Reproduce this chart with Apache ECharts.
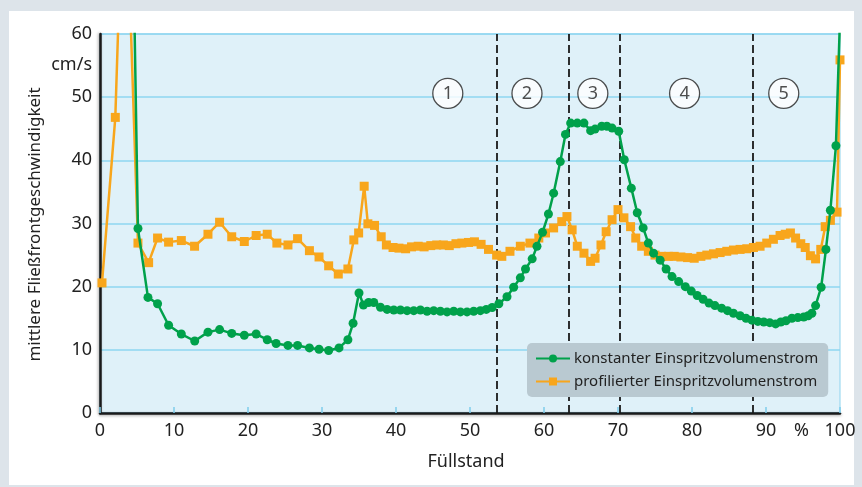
<!DOCTYPE html>
<html>
<head>
<meta charset="utf-8">
<script src="https://cdn.jsdelivr.net/npm/echarts@6/dist/echarts.min.js"></script>
<style>
  html, body { margin: 0; padding: 0; background: #dde4ea; }
  #frame { position: absolute; left: 9px; top: 11px; width: 845px; height: 474px; background: #ffffff; }
  #chart { position: absolute; left: 0; top: 0; width: 862px; height: 487px; }
</style>
</head>
<body>
<div id="frame"></div>
<div id="chart"></div>
<script>
// ---- data ----
const seriesNames = ['konstanter Einspritzvolumenstrom', 'profilierter Einspritzvolumenstrom'];
const xTicks = [0, 10, 20, 30, 40, 50, 60, 70, 80, 90, 100];
const yTicks = [0, 10, 20, 30, 40, 50, 60];

const konstantX = [4.4, 5.13, 6.48, 7.78, 9.27, 10.99, 12.8, 14.59, 16.16, 17.8, 19.5, 21.1, 22.6, 23.8, 25.4, 26.7, 28.3, 29.6, 30.9, 32.3, 33.5, 34.2, 35.0, 35.6, 36.3, 37.0, 37.9, 38.8, 39.7, 40.6, 41.5, 42.4, 43.3, 44.2, 45.1, 46.0, 46.9, 47.8, 48.7, 49.6, 50.5, 51.4, 52.2, 53.0, 53.9, 55.0, 55.9, 56.8, 57.5, 58.4, 59.05, 59.8, 60.6, 61.3, 62.2, 62.9, 63.6, 64.5, 65.4, 66.3, 66.9, 67.8, 68.5, 69.2, 70.1, 70.85, 71.8, 72.6, 73.4, 74.1, 74.8, 75.7, 76.5, 77.3, 78.2, 79.1, 79.9, 80.7, 81.5, 82.3, 83.1, 84.0, 84.8, 85.6, 86.5, 87.3, 88.1, 88.9, 89.7, 90.5, 91.3, 92.0, 92.7, 93.5, 94.3, 95.1, 95.7, 96.2, 96.7, 97.45, 98.1, 98.7, 99.45, 100];
const konstantY = [80, 29.2, 18.3, 17.3, 13.9, 12.5, 11.4, 12.8, 13.2, 12.6, 12.3, 12.5, 11.6, 11.0, 10.7, 10.7, 10.3, 10.1, 9.9, 10.3, 11.6, 14.2, 19.0, 17.1, 17.5, 17.5, 16.75, 16.4, 16.3, 16.3, 16.2, 16.2, 16.3, 16.1, 16.2, 16.1, 16.0, 16.1, 16.0, 16.0, 16.1, 16.2, 16.4, 16.7, 17.3, 18.4, 19.9, 21.4, 22.8, 24.4, 26.4, 28.6, 31.5, 34.8, 39.8, 44.1, 45.9, 45.9, 45.9, 44.7, 44.95, 45.4, 45.4, 45.1, 44.6, 40.1, 35.6, 31.7, 29.3, 26.9, 25.3, 24.2, 22.8, 21.6, 20.8, 20.0, 19.3, 18.6, 18.0, 17.4, 17.0, 16.6, 16.2, 15.8, 15.4, 15.0, 14.7, 14.5, 14.4, 14.3, 14.1, 14.4, 14.6, 15.0, 15.1, 15.2, 15.4, 15.8, 17.0, 19.9, 25.9, 32.1, 42.3, 62.5];

const profilX = [0.27, 2.07, 3.3, 5.13, 6.57, 7.78, 9.27, 10.99, 12.78, 14.59, 16.16, 17.8, 19.5, 21.1, 22.6, 23.9, 25.4, 26.7, 28.3, 29.6, 30.9, 32.2, 33.5, 34.3, 34.95, 35.7, 36.2, 37.1, 38.0, 38.7, 39.6, 40.4, 41.3, 42.1, 43.0, 43.8, 44.7, 45.5, 46.4, 47.2, 48.1, 48.9, 49.8, 50.6, 51.5, 52.5, 53.6, 54.3, 55.4, 56.8, 58.1, 59.3, 60.2, 61.3, 62.4, 63.1, 63.8, 64.5, 65.4, 66.3, 66.9, 67.7, 68.4, 69.2, 70.0, 70.8, 71.7, 72.4, 73.2, 74.1, 75.0, 75.9, 76.8, 77.6, 78.5, 79.4, 80.3, 81.2, 82.0, 82.9, 83.8, 84.7, 85.6, 86.5, 87.4, 88.3, 89.2, 90.1, 91.0, 91.9, 92.6, 93.3, 94.0, 94.7, 95.3, 96.0, 96.7, 97.4, 98.0, 98.7, 99.6, 100];
const profilY = [20.6, 46.8, 92, 26.9, 23.8, 27.7, 27.05, 27.3, 26.4, 28.3, 30.2, 27.9, 27.15, 28.1, 28.3, 26.9, 26.6, 27.6, 25.7, 24.7, 23.3, 22.0, 22.8, 27.4, 28.5, 35.9, 29.95, 29.7, 27.9, 26.6, 26.2, 26.1, 26.0, 26.3, 26.4, 26.3, 26.5, 26.6, 26.6, 26.5, 26.8, 26.9, 27.0, 27.1, 26.7, 25.9, 25.0, 24.8, 25.6, 26.4, 26.9, 27.7, 28.5, 29.3, 30.3, 31.1, 29.0, 26.4, 25.3, 24.0, 24.5, 26.6, 28.7, 30.6, 32.2, 30.9, 29.5, 27.7, 26.4, 25.6, 25.0, 24.8, 24.8, 24.8, 24.7, 24.6, 24.5, 24.8, 25.0, 25.2, 25.4, 25.6, 25.8, 25.9, 26.0, 26.2, 26.4, 26.9, 27.5, 28.1, 28.3, 28.5, 27.7, 26.8, 26.2, 24.9, 24.4, 25.9, 29.5, 30.5, 31.8, 55.9];

const zoneBoundaries = [53.55, 63.3, 70.3, 88.2];
const zoneLabels = ['1', '2', '3', '4', '5'];
const zoneLabelX = [47.0, 57.7, 66.6, 79.0, 92.4];
const zoneLabelY = [50.6, 50.6, 50.6, 50.6, 50.6];

// ---- chart ----
const FONT = 'Noto Sans';
const GREEN = '#00a14b';
const ORANGE = '#f8a61c';
const chart = echarts.init(document.getElementById('chart'), null, { renderer: 'canvas' });

const pair = (xs, ys) => xs.map((x, i) => [x, ys[i]]);

const option = {
  animation: false,
  backgroundColor: 'transparent',
  textStyle: { fontFamily: FONT },
  grid: {
    left: 100, right: 22, top: 34, bottom: 74,
    show: true, backgroundColor: '#dff1f9', borderColor: '#8ed3ee', borderWidth: 1
  },
  xAxis: {
    type: 'value', min: 0, max: 100, interval: 10,
    axisLine: { show: true, onZero: false, lineStyle: { color: '#1a1a1a', width: 2.5, shadowColor: 'rgba(0,0,0,0.35)', shadowBlur: 3, shadowOffsetY: 1 } },
    axisTick: { show: true, inside: true, length: 6, lineStyle: { color: '#7fcdec', width: 1.5 } },
    axisLabel: { color: '#222', fontSize: 18, margin: 9, fontFamily: FONT,
      formatter: v => xTicks.indexOf(v) >= 0 ? String(v) : '' },
    splitLine: { show: false }
  },
  yAxis: {
    type: 'value', min: 0, max: 60, interval: 10,
    axisLine: { show: true, onZero: false, lineStyle: { color: '#1a1a1a', width: 2.5, shadowColor: 'rgba(0,0,0,0.35)', shadowBlur: 3, shadowOffsetX: -1 } },
    axisTick: { show: false },
    axisLabel: { color: '#222', fontSize: 18, margin: 8, fontFamily: FONT,
      formatter: v => yTicks.indexOf(v) >= 0 ? String(v) : '' },
    splitLine: { show: true, lineStyle: { color: '#8ed6f0', width: 1.5 } }
  },
  legend: {
    data: [seriesNames[0], seriesNames[1]],
    orient: 'vertical',
    left: 527, top: 343,
    z: 50,
    padding: [8, 10, 8, 8],
    itemGap: 8,
    itemWidth: 34, itemHeight: 10,
    backgroundColor: '#b9c9d1',
    borderRadius: 5,
    textStyle: { color: '#222', fontSize: 15, fontFamily: FONT, padding: [0, 0, 0, -1] }
  },
  series: [
    {
      name: 'zones', type: 'scatter', z: 1,
      data: pair(zoneLabelX, zoneLabelY).map((p, i) => ({ value: p, name: zoneLabels[i] })),
      symbol: 'circle', symbolSize: 30,
      itemStyle: { color: '#ffffff', borderColor: '#222', borderWidth: 1.3 },
      label: { show: true, position: 'inside', formatter: p => p.name, color: '#222', fontSize: 18, fontFamily: FONT },
      silent: true,
      markLine: {
        silent: true, symbol: 'none', label: { show: false }, z: 1,
        lineStyle: { color: '#1a1a1a', type: [8, 4], width: 1.8 },
        data: zoneBoundaries.map(v => ({ xAxis: v }))
      }
    },
    {
      name: seriesNames[1], type: 'line', z: 3,
      data: pair(profilX, profilY),
      symbol: 'rect', symbolSize: 9,
      lineStyle: { color: ORANGE, width: 2.5 },
      itemStyle: { color: ORANGE },
      clip: true
    },
    {
      name: seriesNames[0], type: 'line', z: 4,
      data: pair(konstantX, konstantY),
      symbol: 'circle', symbolSize: 9,
      lineStyle: { color: GREEN, width: 2.5 },
      itemStyle: { color: GREEN },
      clip: true
    }
  ]
};
chart.setOption(option);

// text annotations positioned via axis scales
const pctPos = chart.convertToPixel({ gridIndex: 0 }, [94.8, 0]);
const unitPos = chart.convertToPixel({ gridIndex: 0 }, [0, 55]);
const gridTop = chart.convertToPixel({ gridIndex: 0 }, [0, 60]);
const gridBot = chart.convertToPixel({ gridIndex: 0 }, [100, 0]);
chart.setOption({
  graphic: [
    { type: 'text', x: pctPos[0], y: pctPos[1] + 18, style: { text: '%', font: '18px ' + FONT, fill: '#222', align: 'center', verticalAlign: 'middle' } },
    { type: 'text', x: unitPos[0] - 8, y: unitPos[1] - 1, style: { text: 'cm/s', font: '18px ' + FONT, fill: '#222', align: 'right', verticalAlign: 'middle' } },
    { type: 'text', x: 35, y: (gridTop[1] + gridBot[1]) / 2 + 1, rotation: Math.PI / 2, style: { text: 'mittlere Fließfrontgeschwindigkeit', font: '17px ' + FONT, fill: '#222', align: 'center', verticalAlign: 'middle' } },
    { type: 'text', x: 466, y: 462, style: { text: 'Füllstand', font: '18px ' + FONT, fill: '#222', align: 'center', verticalAlign: 'middle' } }
  ]
});
</script>
</body>
</html>
